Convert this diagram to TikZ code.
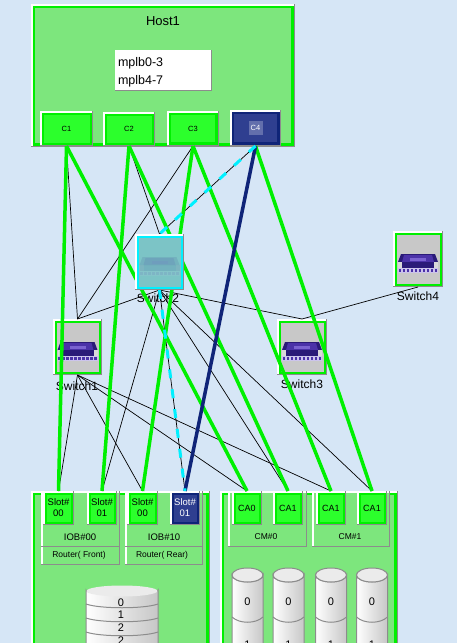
\documentclass[tikz,border=0pt]{standalone}
\usepackage{fontspec}
\setmainfont{Liberation Sans}
\pgfdeclarelayer{front}
\pgfsetlayers{main,front}
\definecolor{bg}{HTML}{D6E6F6}
\definecolor{panel}{HTML}{7DE67D}
\definecolor{lime}{HTML}{00F000}
\definecolor{cardg}{HTML}{2CFF2C}
\definecolor{navy}{HTML}{0F2478}
\definecolor{navyf}{HTML}{2F3F90}
\definecolor{gedge}{HTML}{8C8C8C}
\definecolor{sw}{HTML}{C8C8C8}
\definecolor{teal}{HTML}{7CC4C6}
\definecolor{cyanl}{HTML}{00F0FF}
\definecolor{icdark}{HTML}{2A1A78}
\definecolor{icmid}{HTML}{4B32A8}
\definecolor{iclight}{HTML}{7A62D0}
\definecolor{icstrip}{HTML}{CCC4EC}
\tikzset{
  boxn/.style={inner sep=0pt,outer sep=0pt,rectangle},
  thin line/.style={draw=black,line width=0.7pt},
  greenlink/.style={draw=lime,line width=3.5pt},
  navylink/.style={draw=navy,line width=3.5pt},
  cyanlink/.style={draw=cyanl,line width=3pt,dash pattern=on 9pt off 11pt},
  lab/.style={inner sep=0pt,outer sep=0pt,text=black},
}
\newcommand\slf{\fontsize{9.5}{11}\selectfont}
% name x1 y1 x2 y2 fill border borderwidth text
\newcommand\pbox[9]{%
  \pgfmathsetmacro\cxx{(#2+#4)/2}\pgfmathsetmacro\cyy{(#3+#5)/2}%
  \pgfmathsetmacro\www{#4-#2}\pgfmathsetmacro\hhh{#5-#3}%
  \node[boxn,fill=#6,minimum width=\www pt,minimum height=\hhh pt,font=\fontsize{7.5}{9}\selectfont,align=center] (#1) at (\cxx,\cyy) {#9};
  \draw[white,line width=1.5pt] ([shift={(0.75,0)}]#1.south west)--([shift={(0.75,0.75)}]#1.north west)--([shift={(0,0.75)}]#1.north east);
  \draw[gedge,line width=1.5pt] ([shift={(-0.75,0)}]#1.north east)--([shift={(-0.75,-0.75)}]#1.south east)--([shift={(0,-0.75)}]#1.south west);
  \ifdim#8pt>0pt
  \draw[#7,line width=#8pt] ([shift={(1.5+#8/2,1.5+#8/2)}]#1.north west) rectangle ([shift={(-1.5-#8/2,-1.5-#8/2)}]#1.south east);
  \fi
}
\newcommand\swicon[2][1]{%
  \begin{scope}[shift={(#2.center)},opacity=#1]
    \fill[icdark] (-20,3)--(-17,-5)--(17,-5)--(20,3)--cycle;
    \fill[icmid] (-14,-4)--(14,-4)--(16,3)--(-16,3)--cycle;
    \fill[iclight] (-8,-1) rectangle (8,2);
    \fill[icdark] (-20,3) rectangle (20,9);
    \fill[white!70!gray] (-20,3) rectangle (-16,9);
    \fill[white!70!gray] (16,3) rectangle (20,9);
    \fill[icstrip] (-20,9) rectangle (20,14);
    \foreach \i in {-18,-14,...,18} \fill[icmid] (\i-1.2,10) rectangle (\i+1.2,13);
  \end{scope}
}
\begin{document}
\begin{tikzpicture}[x=1pt,y=-1pt]
\fill[bg] (0,0) rectangle (457,643);
\useasboundingbox (0,0) rectangle (457,643);
% Host
\pbox{host}{31}{4}{295}{147}{panel}{lime}{2.5}{}
\node[lab,font=\fontsize{13}{15}\selectfont] (hostlab) at (163,21) {Host1};
\pbox{mp}{115}{50}{212}{91}{white}{white}{0}{}
\node[lab,font=\fontsize{12.5}{14}\selectfont,anchor=west] (mp1) at (118,63) {mplb0-3};
\node[lab,font=\fontsize{12.5}{14}\selectfont,anchor=west] (mp2) at (118,81) {mplb4-7};
\pbox{c1}{40}{111}{93}{146}{cardg}{lime}{2}{C1}
\pbox{c2}{103}{112}{155}{146}{cardg}{lime}{2}{C2}
\pbox{c3}{167}{111}{219}{146}{cardg}{lime}{2.5}{C3}
\pbox{c4}{230}{110}{281}{146}{navyf}{navy}{2.5}{}
\node[boxn,fill=navyf!75!white,text=white,minimum width=14pt,minimum height=14pt,font=\fontsize{7.5}{9}\selectfont] (c4t) at (c4) {C4};
% containers
\pbox{left}{31}{491}{210}{670}{panel}{lime}{2.5}{}
\pbox{right}{220}{491}{398}{670}{panel}{lime}{2.5}{}
% IOB panels
\pbox{iob0}{41}{491}{120}{565}{panel}{lime}{0}{}
\pbox{iob1}{125}{491}{203}{565}{panel}{lime}{0}{}
\draw[gedge,line width=1pt] (iob0.west |- 0,546) -- (iob0.east |- 0,546);
\draw[gedge,line width=1pt] (iob1.west |- 0,546) -- (iob1.east |- 0,546);
\node[lab,font=\fontsize{9.5}{11}\selectfont] (iob0t) at (80,537) {IOB\#00};
\node[lab,font=\fontsize{9.5}{11}\selectfont] (iob1t) at (164,537) {IOB\#10};
\node[lab,font=\fontsize{8.5}{10}\selectfont] (r0) at (79,555) {Router( Front)};
\node[lab,font=\fontsize{8.5}{10}\selectfont] (r1) at (162,555) {Router( Rear)};
\pbox{s0}{43}{491}{74}{525}{cardg}{lime}{2}{\slf Slot\#\\[2pt]\slf 00}
\pbox{s1}{87}{491}{117}{525}{cardg}{lime}{2}{\slf Slot\#\\[2pt]\slf 01}
\pbox{s2}{127}{491}{158}{525}{cardg}{lime}{2}{\slf Slot\#\\[2pt]\slf 00}
\pbox{s3}{170}{491}{200}{525}{navyf}{navy}{2}{\slf\textcolor{white}{Slot\#}\\[2pt]\slf\textcolor{white}{01}}
% CM panels
\pbox{cm0}{228}{491}{307}{547}{panel}{lime}{0}{}
\pbox{cm1}{312}{491}{390}{547}{panel}{lime}{0}{}
\node[lab,font=\fontsize{8.5}{10}\selectfont] (cm0t) at (266,537) {CM\#0};
\node[lab,font=\fontsize{8.5}{10}\selectfont] (cm1t) at (350,537) {CM\#1};
\pbox{ca0}{232}{491}{262}{525}{cardg}{lime}{2}{\fontsize{9}{10}\selectfont CA0}
\pbox{ca1}{273}{491}{303}{525}{cardg}{lime}{2}{\fontsize{9}{10}\selectfont CA1}
\pbox{ca2}{316}{491}{346}{525}{cardg}{lime}{2}{\fontsize{9}{10}\selectfont CA1}
\pbox{ca3}{357}{491}{387}{525}{cardg}{lime}{2}{\fontsize{9}{10}\selectfont CA1}
% left cylinder
\draw[gedge,line width=1pt,left color=white,right color=black!22] (86,590) -- (86,660) -- (158,660) -- (158,590) arc (0:180:36 and 5) -- cycle;
\fill[white!92!black] (122,591) ellipse (35.5 and 5.5);
\foreach \yy in {604,618,632}
  \draw[gedge,line width=1pt] (86,\yy) .. controls (100,\yy+5) and (144,\yy+5) .. (158,\yy);
\node[lab,font=\fontsize{11}{13}\selectfont] (d0) at (121,603) {0};
\node[lab,font=\fontsize{11}{13}\selectfont] (d1) at (121,615) {1};
\node[lab,font=\fontsize{11}{13}\selectfont] (d2) at (121,628) {2};
\node[lab,font=\fontsize{11}{13}\selectfont] (d3) at (121,641) {2};
% right cylinders
\foreach \cxv/\nm in {247.5/a,288.5/b,331/c,372/d}{
  \draw[gedge,line width=1pt,left color=white,middle color=white,right color=black!22] (\cxv-15.5,575) -- (\cxv-15.5,660) -- (\cxv+15.5,660) -- (\cxv+15.5,575) arc (0:180:15.5 and 7) -- cycle;
  \draw[gedge,line width=1pt,fill=white!92!black] (\cxv,575) ellipse (15.5 and 7);
  \draw[gedge,line width=1pt] (\cxv-15.5,617) .. controls (\cxv-8,624) and (\cxv+8,624) .. (\cxv+15.5,617);
  \node[lab,font=\fontsize{11}{13}\selectfont] (z\nm) at (\cxv,602) {0};
  \node[lab,font=\fontsize{11}{13}\selectfont] (y\nm) at (\cxv,645) {1};
}
% switches
\pbox{sw1}{53}{319}{102}{375}{sw}{lime}{2}{}
\swicon{sw1}
\pbox{sw3}{277}{319}{327}{375}{sw}{lime}{2}{}
\swicon{sw3}
\pbox{sw4}{393}{231}{443}{287}{sw}{lime}{2}{}
\swicon{sw4}
\begin{pgfonlayer}{front}
\pbox{sw2}{135}{234}{184}{290}{teal}{cyanl}{2}{}
\swicon[0.1]{sw2}
\end{pgfonlayer}
\node[lab,font=\fontsize{12}{14}\selectfont] (sw1t) at (77,386) {Switch1};
\node[lab,font=\fontsize{12}{14}\selectfont] (sw2t) at (158,298) {Switch2};
\node[lab,font=\fontsize{12}{14}\selectfont] (sw3t) at (302,384) {Switch3};
\node[lab,font=\fontsize{12}{14}\selectfont] (sw4t) at (418,296) {Switch4};
% thin links
\draw[thin line] (c1.south)--(sw1.north);
\draw[thin line] (c2.south)--(sw2.north);
\draw[thin line] (c3.south)--(sw1.north);
\draw[thin line] (c4.south)--(sw2.north);
\draw[thin line] (sw2.south)--(s3.north);
\draw[thin line] (sw2.south)--(sw1.north);
\draw[thin line] (sw2.south)--(sw3.north);
\draw[thin line] (sw3.north)--(sw4.south);
\draw[thin line] (sw1.south)--(s0.north);
\draw[thin line] (sw1.south)--(s2.north);
\draw[thin line] (sw1.south)--(ca0.north);
\draw[thin line] (sw1.south)--(ca2.north);
\draw[thin line] (sw2.south)--(s1.north);
\draw[thin line] (sw2.south)--(ca1.north);
\draw[thin line] (sw2.south)--(ca3.north);
% thick links
\draw[greenlink] (c1.south)--(s0.north);
\draw[greenlink] (c1.south)--(ca0.north);
\draw[greenlink] (c2.south)--(s1.north);
\draw[greenlink] (c2.south)--(ca1.north);
\draw[greenlink] (c3.south)--(s2.north);
\draw[greenlink] (c3.south)--(ca2.north);
\draw[greenlink] (c4.south)--(ca3.north);
\draw[navylink] (c4.south)--(s3.north);
\draw[cyanlink] (c4.south)--(sw2.north);
\draw[cyanlink] (sw2.south)--(s3.north);
\end{tikzpicture}
\end{document}
